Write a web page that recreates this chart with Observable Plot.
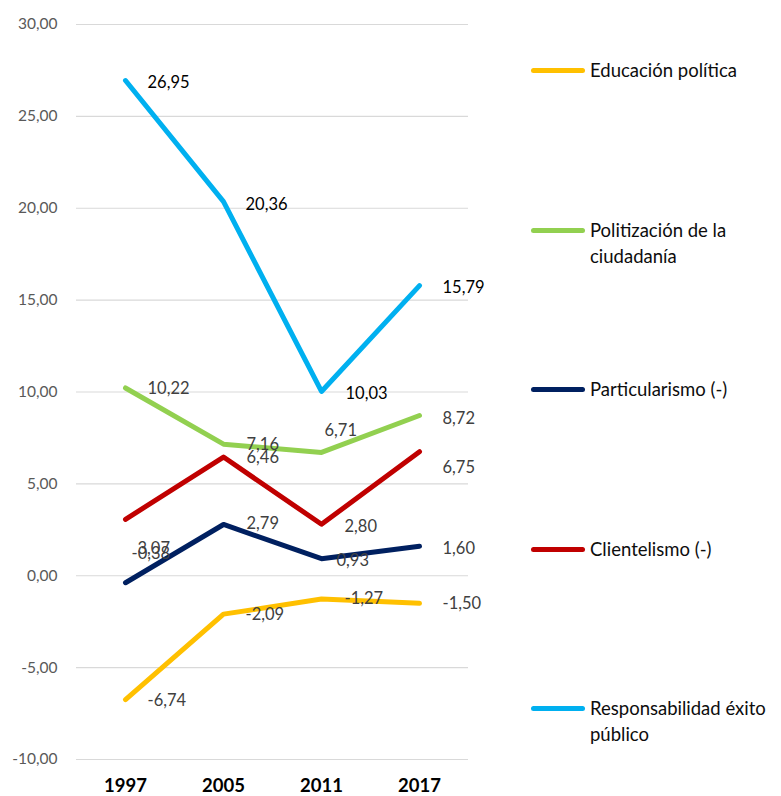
<!DOCTYPE html>
<html>
<head>
<meta charset="utf-8">
<script src="https://cdn.jsdelivr.net/npm/d3@7"></script>
<script src="https://cdn.jsdelivr.net/npm/@observablehq/plot@0.6"></script>
<style>
  html, body { margin: 0; padding: 0; background: #fff; }
  #wrap { position: relative; width: 781px; height: 796px; font-family: Lato, "Open Sans", sans-serif; }
  #legend { position: absolute; left: 531px; top: 57px; }
  .entry { height: 159.5px; display: flex; align-items: flex-start; }
  .swatch { width: 54px; height: 5px; border-radius: 3px; margin-top: 11px; flex: none; }
  .lab { margin-left: 5px; width: 191px; font-size: 18.5px; line-height: 26px; color: #0d0d0d; }
</style>
</head>
<body>
<div id="wrap"><div id="chart"></div><div id="legend"></div></div>
<script>
const years = ["1997", "2005", "2011", "2017"];
const seriesNames = [
  "Educación política",
  "Politización de la ciudadanía",
  "Particularismo (-)",
  "Clientelismo (-)",
  "Responsabilidad éxito público"
];
const educacionPolitica = [-6.74, -2.09, -1.27, -1.50];
const politizacion = [10.22, 7.16, 6.71, 8.72];
const particularismo = [-0.38, 2.79, 0.93, 1.60];
const clientelismo = [3.07, 6.46, 2.80, 6.75];
const responsabilidad = [26.95, 20.36, 10.03, 15.79];
const yTicks = [-10, -5, 0, 5, 10, 15, 20, 25, 30];

const seriesValues = [educacionPolitica, politizacion, particularismo, clientelismo, responsabilidad];
const colors = ["#FFC000", "#92D050", "#002060", "#C00000", "#00B0F0"];
const labelColors = ["#404040", "#404040", "#404040", "#404040", "#000000"];
// label offsets [dx, dy] relative to each point (Excel-style placement)
const labelOffsets = [
  [[22, 1], [22, 1], [23, 0], [23, 0]],
  [[22, 1], [23, 1], [3, -22], [23, 3]],
  [[6, -29], [23, -1], [15, 2], [23, 2]],
  [[12, 29], [23, 1], [23, 2], [23, 16]],
  [[22, 2], [22, 3], [24, 2], [23, 2]]
];

const fmt = d => (d < 0 ? "-" : "") + Math.abs(d).toFixed(2).replace(".", ",");

const rows = [];
seriesNames.forEach((s, i) => years.forEach((y, j) => rows.push({series: s, si: i, yi: j, year: y, value: seriesValues[i][j]})));

const labelMarks = rows.map(r => Plot.text([r], {
  x: "year", y: "value", text: d => fmt(d.value),
  dx: labelOffsets[r.si][r.yi][0], dy: labelOffsets[r.si][r.yi][1],
  textAnchor: "start", fill: labelColors[r.si], fontSize: 16.5
}));

const chart = Plot.plot({
  width: 781,
  height: 796,
  marginLeft: 76,
  marginRight: 313,
  marginTop: 24,
  marginBottom: 37,
  style: {fontFamily: "Lato, 'Open Sans', sans-serif", background: "#fff", overflow: "visible"},
  x: {type: "point", domain: years, padding: 0.5, label: null},
  y: {domain: [-10, 30], label: null},
  color: {domain: seriesNames, range: colors},
  marks: [
    Plot.ruleY(yTicks, {stroke: "#d9d9d9", strokeWidth: 1.2}),
    Plot.axisY(yTicks, {tickSize: 0, tickPadding: 19, tickFormat: fmt, fontSize: 15.5, fill: "#595959", label: null}),
    Plot.axisX({tickSize: 0, tickPadding: 19, fontSize: 18.5, fontWeight: "bold", fill: "#000", label: null}),
    Plot.line(rows, {x: "year", y: "value", z: "series", stroke: "series", strokeWidth: 5, strokeLinecap: "round", strokeLinejoin: "round"}),
    ...labelMarks
  ]
});
document.getElementById("chart").appendChild(chart);

const legend = document.getElementById("legend");
seriesNames.forEach((s, i) => {
  const e = document.createElement("div");
  e.className = "entry";
  const sw = document.createElement("div");
  sw.className = "swatch";
  sw.style.background = colors[i];
  const lb = document.createElement("div");
  lb.className = "lab";
  lb.textContent = s;
  e.appendChild(sw); e.appendChild(lb);
  legend.appendChild(e);
});
</script>
</body>
</html>
